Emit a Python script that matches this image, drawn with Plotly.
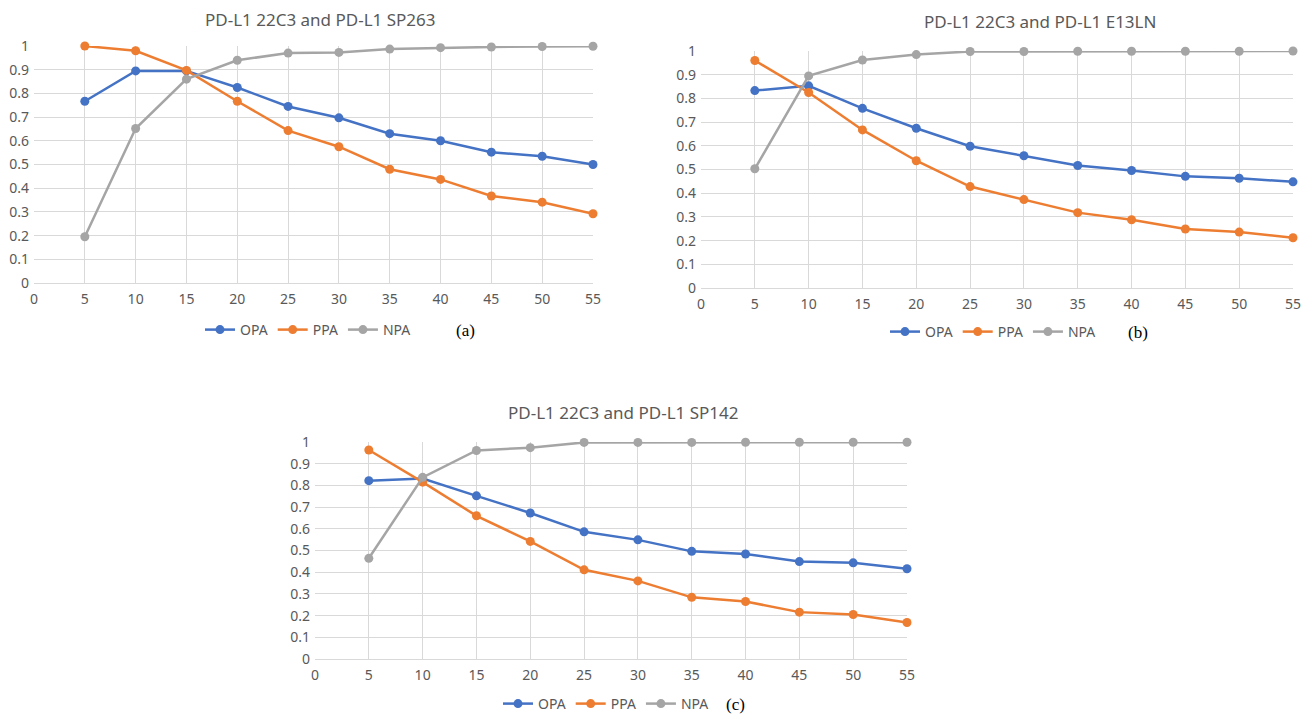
import plotly.graph_objects as go

cutoffs = [5, 10, 15, 20, 25, 30, 35, 40, 45, 50, 55]
x_ticks = [0, 5, 10, 15, 20, 25, 30, 35, 40, 45, 50, 55]
y_ticks = [0, 0.1, 0.2, 0.3, 0.4, 0.5, 0.6, 0.7, 0.8, 0.9, 1]
y_tick_text = ["0", "0.1", "0.2", "0.3", "0.4", "0.5", "0.6", "0.7", "0.8", "0.9", "1"]

titles = ["PD-L1 22C3 and PD-L1 SP263", "PD-L1 22C3 and PD-L1 E13LN", "PD-L1 22C3 and PD-L1 SP142"]
panel_labels = ["(a)", "(b)", "(c)"]
series_names = ["OPA", "PPA", "NPA"]

# (a) SP263
opa_a = [0.767, 0.895, 0.895, 0.825, 0.745, 0.697, 0.630, 0.600, 0.552, 0.535, 0.500]
ppa_a = [1.000, 0.980, 0.897, 0.767, 0.643, 0.575, 0.480, 0.437, 0.367, 0.341, 0.292]
npa_a = [0.195, 0.652, 0.860, 0.940, 0.970, 0.973, 0.987, 0.993, 0.996, 0.998, 0.999]
# (b) E13LN
opa_b = [0.833, 0.853, 0.758, 0.674, 0.598, 0.558, 0.517, 0.496, 0.471, 0.463, 0.448]
ppa_b = [0.960, 0.825, 0.667, 0.537, 0.428, 0.373, 0.318, 0.288, 0.249, 0.236, 0.212]
npa_b = [0.503, 0.895, 0.962, 0.985, 0.998, 0.998, 0.999, 0.999, 0.999, 0.999, 1.000]
# (c) SP142
opa_c = [0.822, 0.832, 0.752, 0.673, 0.586, 0.549, 0.496, 0.484, 0.449, 0.443, 0.416]
ppa_c = [0.963, 0.815, 0.660, 0.542, 0.411, 0.360, 0.284, 0.265, 0.216, 0.205, 0.168]
npa_c = [0.464, 0.837, 0.961, 0.974, 0.998, 0.998, 0.998, 0.999, 0.999, 0.999, 0.999]

panels = [[opa_a, ppa_a, npa_a], [opa_b, ppa_b, npa_b], [opa_c, ppa_c, npa_c]]
colors = ["#4472C4", "#ED7D31", "#A5A5A5"]

# page has an 8px body margin: the figure starts at (8, 8) in the window
OFF = 8
W, H = 1309 - OFF, 716 - OFF


def fx(px):
    return (px - OFF) / W


def fy(py):
    return 1 - (py - OFF) / H


# plot-area pixel boxes in window coordinates: (left, right, top, bottom)
boxes = [(34, 593, 46, 283), (701, 1293, 51, 288), (315, 907, 442, 659)]
title_pos = [(320, 20), (1040, 22), (623, 412)]
legend_pos = [(308, 330), (993, 332), (606, 704)]
label_pos = [(465, 330), (1138, 332), (736, 704)]

TXT = "#595959"
GRID = "#D9D9D9"
FONT = "Noto Sans"

fig = go.Figure()
annotations = []
layout = {}
for i in range(3):
    l, r, t, b = boxes[i]
    sfx = "" if i == 0 else str(i + 1)
    xa, ya = "x" + sfx, "y" + sfx
    leg = "legend" if i == 0 else "legend" + str(i + 1)
    for j in range(3):
        fig.add_trace(go.Scatter(
            x=cutoffs, y=panels[i][j], name=series_names[j], mode="lines+markers",
            line=dict(color=colors[j], width=2.5),
            marker=dict(color=colors[j], size=9),
            xaxis=xa, yaxis=ya, legend=leg, cliponaxis=False,
        ))
    layout["xaxis" + sfx] = dict(
        domain=[fx(l), fx(r)], range=[0, 55], anchor=ya, automargin=False,
        tickvals=x_ticks, ticktext=[str(v) for v in x_ticks],
        showgrid=True, gridcolor=GRID, gridwidth=1.3, zeroline=False,
        showline=True, linecolor=GRID, linewidth=1.3,
        tickfont=dict(family=FONT, size=14, color=TXT), ticks="", ticklabelstandoff=3,
        fixedrange=True,
    )
    layout["yaxis" + sfx] = dict(
        domain=[fy(b), fy(t)], range=[0, 1], anchor=xa, automargin=False,
        tickvals=y_ticks, ticktext=y_tick_text,
        showgrid=True, gridcolor=GRID, gridwidth=1.3, zeroline=False,
        showline=False, ticks="", ticklabelstandoff=4,
        tickfont=dict(family=FONT, size=14, color=TXT), fixedrange=True,
    )
    lx, ly = legend_pos[i]
    layout[leg] = dict(
        orientation="h", x=fx(lx), y=fy(ly), xanchor="center", yanchor="middle",
        font=dict(family=FONT, size=14, color=TXT), bgcolor="rgba(0,0,0,0)",
        itemwidth=30, tracegroupgap=0,
    )
    tx, ty = title_pos[i]
    annotations.append(dict(
        text=titles[i], x=fx(tx), y=fy(ty), xref="paper", yref="paper",
        xanchor="center", yanchor="middle", showarrow=False,
        font=dict(family=FONT, size=17, color=TXT),
    ))
    px, py = label_pos[i]
    annotations.append(dict(
        text=panel_labels[i], x=fx(px), y=fy(py), xref="paper", yref="paper",
        xanchor="center", yanchor="middle", showarrow=False,
        font=dict(family="Liberation Serif", size=17, color="#000000"),
    ))

fig.update_layout(
    width=W, height=H, margin=dict(l=0, r=0, t=0, b=0, autoexpand=False),
    paper_bgcolor="white", plot_bgcolor="white",
    annotations=annotations, showlegend=True, **layout,
)
fig.write_html("out.html")
